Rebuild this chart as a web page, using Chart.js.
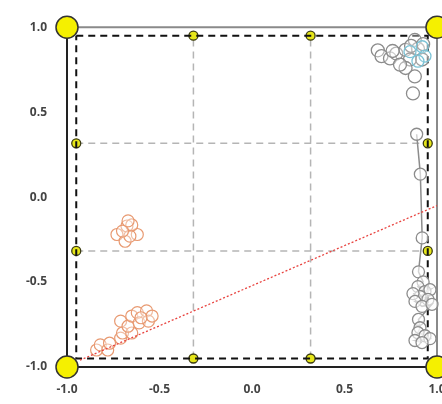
<!DOCTYPE html>
<html>
<head>
<meta charset="utf-8">
<script src="https://cdn.jsdelivr.net/npm/chart.js@4"></script>
<style>
  html, body { margin: 0; padding: 0; background: #fff; }
</style>
</head>
<body>
<canvas id="grafico" width="442" height="404"></canvas>
<script>
// axis ticks
const tickValues = [-1, -0.5, 0, 0.5, 1]

// frame geometry in data units
const cornerX = [-1, 1, 1, -1]
const cornerY = [1, 1, -1, -1]
const squareX = [-0.95, 0.95, 0.95, -0.95, -0.95]
const squareY = [0.95, 0.95, -0.95, -0.95, 0.95]
const gridPos = [-0.3167, 0.3167]
const edgePos = [-0.95, 0.95]

// red dotted trend line
const fitX = [-0.93, 1.0]
const fitY = [-0.96, -0.05]

// orange groups
const orangeX = [-0.73, -0.676, -0.62, -0.686, -0.66, -0.65, -0.70, -0.67,
                 -0.84, -0.82, -0.78, -0.77, -0.71, -0.70, -0.65, -0.71, -0.67, -0.65, -0.62, -0.61, -0.57, -0.56, -0.54, -0.60]
const orangeY = [-0.22, -0.17, -0.22, -0.26, -0.23, -0.164, -0.20, -0.14,
                 -0.90, -0.87, -0.90, -0.86, -0.83, -0.80, -0.80, -0.73, -0.76, -0.70, -0.68, -0.74, -0.67, -0.73, -0.70, -0.71]

// grey cluster top right
const greyTopX = [0.68, 0.70, 0.746, 0.78, 0.83, 0.88, 0.897, 0.854, 0.83, 0.88, 0.87, 0.80, 0.92, 0.925, 0.76, 0.86]
const greyTopY = [0.864, 0.83, 0.816, 0.845, 0.867, 0.925, 0.873, 0.81, 0.76, 0.71, 0.61, 0.78, 0.81, 0.90, 0.86, 0.89]

// light blue points inside that cluster
const blueX = [0.92, 0.935, 0.897, 0.854]
const blueY = [0.885, 0.83, 0.80, 0.856]

// grey connected path down the right side
const pathX = [0.89, 0.91, 0.92, 0.90, 0.925, 0.897, 0.935, 0.962, 0.908, 0.87, 0.951, 0.881, 0.919, 0.973, 0.90, 0.908, 0.897, 0.935, 0.962, 0.881, 0.919]
const pathY = [0.37, 0.135, -0.24, -0.44, -0.499, -0.527, -0.556, -0.545, -0.585, -0.568, -0.602, -0.614, -0.643, -0.631, -0.72, -0.769, -0.798, -0.816, -0.833, -0.844, -0.856]

function pts(xs, ys) {
    return xs.map((x, i) => ({ x: x, y: ys[i] }))
}

// grid lines as segments separated by gaps
const gridData = []
gridPos.forEach(g => {
    gridData.push({ x: g, y: edgePos[0] }, { x: g, y: edgePos[1] }, { x: g, y: null })
    gridData.push({ x: edgePos[0], y: g }, { x: edgePos[1], y: g }, { x: null, y: null })
})

const smallYellow = []
gridPos.forEach(g => {
    edgePos.forEach(e => {
        smallYellow.push({ x: g, y: e })
        smallYellow.push({ x: e, y: g })
    })
})

const frame = {
    id: 'frame',
    beforeDatasetsDraw(chart) {
        const a = chart.chartArea
        const c = chart.ctx
        c.save()
        c.lineWidth = 2
        c.strokeStyle = '#8a8a8a'
        c.beginPath()
        c.moveTo(a.left, a.top); c.lineTo(a.right, a.top); c.lineTo(a.right, a.bottom)
        c.stroke()
        c.strokeStyle = '#222'
        c.beginPath()
        c.moveTo(a.left, a.top); c.lineTo(a.left, a.bottom); c.lineTo(a.right, a.bottom)
        c.stroke()
        c.restore()
    }
}

const ctx = document.getElementById('grafico')

new Chart(ctx, {
    type: 'scatter',
    data: {
        datasets: [
            {
                data: gridData, showLine: true, spanGaps: false,
                borderColor: '#b5b5b5', borderWidth: 1.5, borderDash: [7, 5],
                pointRadius: 0, order: 10, clip: false
            },
            {
                data: smallYellow,
                pointRadius: 4.5, pointBorderWidth: 1.3,
                pointBorderColor: '#3a3a10', pointBackgroundColor: '#e6e619',
                order: 9.5, clip: false
            },
            {
                data: pts(squareX, squareY), showLine: true,
                borderColor: '#111', borderWidth: 2, borderDash: [7, 5],
                pointRadius: 0, order: 9, clip: false
            },
            {
                data: pts(fitX, fitY), showLine: true,
                borderColor: '#e8433f', borderWidth: 1.3, borderDash: [2, 2],
                pointRadius: 0, order: 2, clip: false
            },
            {
                data: pts(orangeX, orangeY),
                pointRadius: 6, pointBorderWidth: 1.2,
                pointBorderColor: '#e89a72', pointBackgroundColor: 'rgba(255,255,255,0.35)',
                order: 6
            },
            {
                data: pts(greyTopX, greyTopY),
                pointRadius: 6.5, pointBorderWidth: 1.3,
                pointBorderColor: '#8c8c8c', pointBackgroundColor: 'rgba(255,255,255,0.35)',
                order: 5
            },
            {
                data: pts(blueX, blueY),
                pointRadius: 6, pointBorderWidth: 1.3,
                pointBorderColor: '#7cc3d6', pointBackgroundColor: 'rgba(255,255,255,0.2)',
                order: 4
            },
            {
                data: pts(pathX, pathY), showLine: true,
                borderColor: '#8c8c8c', borderWidth: 1.5,
                pointRadius: 6, pointBorderWidth: 1.3,
                pointBorderColor: '#8c8c8c', pointBackgroundColor: 'rgba(255,255,255,0.6)',
                order: 5, clip: false
            },
            {
                data: pts(cornerX, cornerY),
                pointRadius: 11, pointBorderWidth: 1.5,
                pointBorderColor: '#333', pointBackgroundColor: '#f5f000',
                order: 7, clip: false
            }
        ]
    },
    options: {
        responsive: false,
        animation: false,
        events: [],
        layout: { autoPadding: false, padding: { top: 20, right: 5, left: 0, bottom: 0 } },
        plugins: { legend: { display: false }, tooltip: { enabled: false } },
        scales: {
            x: {
                type: 'linear', min: -1, max: 1,
                grid: { display: false, drawTicks: false },
                border: { display: false },
                afterBuildTicks: s => { s.ticks = tickValues.map(v => ({ value: v })) },
                afterFit: s => { s.height = 37; s.paddingRight = 0; s.paddingLeft = 0 },
                ticks: {
                    padding: 15, color: '#444',
                    font: { family: 'Open Sans', size: 12, weight: 'bold' },
                    callback: v => v.toFixed(1)
                }
            },
            y: {
                type: 'linear', min: -1, max: 1,
                grid: { display: false, drawTicks: false },
                border: { display: false },
                afterBuildTicks: s => { s.ticks = tickValues.map(v => ({ value: v })) },
                afterFit: s => { s.width = 67 },
                ticks: {
                    padding: 20, color: '#444',
                    font: { family: 'Open Sans', size: 12, weight: 'bold' },
                    callback: v => v.toFixed(1)
                }
            }
        }
    },
    plugins: [frame]
})
</script>
</body>
</html>
